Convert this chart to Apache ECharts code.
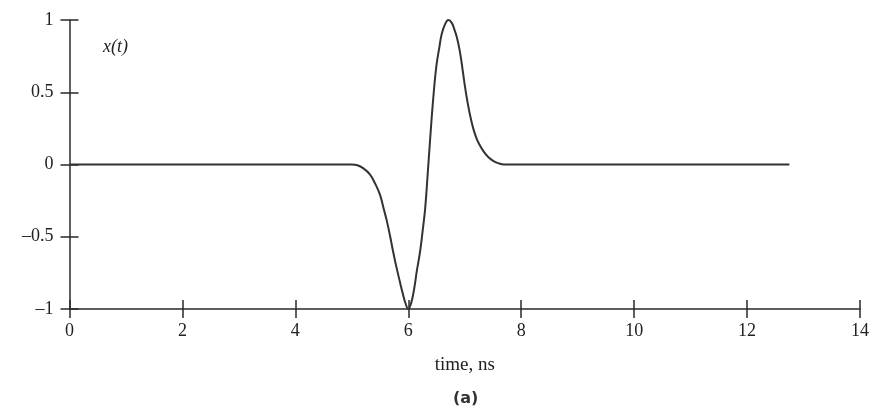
<!DOCTYPE html>
<html>
<head>
<meta charset="utf-8">
<script src="https://cdn.jsdelivr.net/npm/echarts@6/dist/echarts.min.js"></script>
<style>
html,body{margin:0;padding:0;background:#fff;}
#c{width:875px;height:413px;}
</style>
</head>
<body>
<div id="c"></div>
<script>
// time (ns)
var timeNs = [0, 5.0, 5.1, 5.2, 5.32, 5.41, 5.5, 5.56, 5.62, 5.68, 5.73, 5.79, 5.85, 5.90, 5.95, 6.0, 6.05, 6.10, 6.15, 6.21, 6.26, 6.30, 6.35, 6.41, 6.46, 6.50, 6.55, 6.59, 6.65, 6.71, 6.77, 6.82, 6.86, 6.91, 6.95, 7.0, 7.05, 7.10, 7.15, 7.20, 7.25, 7.33, 7.42, 7.51, 7.6, 7.7, 12.75];
// x(t)
var signal = [0, 0, -0.005, -0.025, -0.068, -0.13, -0.21, -0.30, -0.39, -0.50, -0.60, -0.71, -0.81, -0.89, -0.96, -1.0, -0.96, -0.87, -0.74, -0.60, -0.44, -0.30, -0.03, 0.30, 0.54, 0.69, 0.81, 0.90, 0.97, 1.0, 0.98, 0.93, 0.88, 0.79, 0.69, 0.55, 0.43, 0.33, 0.25, 0.19, 0.145, 0.093, 0.05, 0.024, 0.008, 0, 0];
var xTicks = [0, 2, 4, 6, 8, 10, 12, 14];
var yTicks = [-1, -0.5, 0, 0.5, 1];

var pts = timeNs.map(function (t, i) { return [t, signal[i]]; });
var serif = '"Liberation Serif", "DejaVu Serif", serif';
var ink = '#2a2a2a';

function fmtY(v) { return String(v).replace('-', '\u2013'); }

var chart = echarts.init(document.getElementById('c'), null, {renderer: 'canvas'});
chart.setOption({
  animation: false,
  backgroundColor: '#fff',
  grid: {left: 69.5, right: 15, top: 20, bottom: 104},
  xAxis: [{
    type: 'value', min: xTicks[0], max: xTicks[xTicks.length - 1], interval: 2,
    position: 'bottom',
    axisLine: {show: true, onZero: false, lineStyle: {color: ink, width: 1.5}},
    axisTick: {show: true, inside: false, length: 9, lineStyle: {color: ink, width: 1.5}},
    axisLabel: {color: '#222', fontFamily: serif, fontSize: 18, margin: 13},
    splitLine: {show: false},
    name: 'time, ns', nameLocation: 'middle', nameGap: 47,
    nameTextStyle: {color: '#222', fontFamily: serif, fontSize: 19}
  }, {
    type: 'value', min: xTicks[0], max: xTicks[xTicks.length - 1], interval: 2,
    position: 'bottom',
    axisLine: {show: false, onZero: false},
    axisTick: {show: true, inside: true, length: 9, lineStyle: {color: ink, width: 1.5}},
    axisLabel: {show: false},
    splitLine: {show: false}
  }],
  yAxis: [{
    type: 'value', min: yTicks[0], max: yTicks[yTicks.length - 1], interval: 0.5,
    position: 'left',
    axisLine: {show: true, onZero: false, lineStyle: {color: ink, width: 1.5}},
    axisTick: {show: true, inside: false, length: 9, lineStyle: {color: ink, width: 1.5}},
    axisLabel: {color: '#222', fontFamily: serif, fontSize: 18, margin: 16, formatter: fmtY},
    splitLine: {show: false}
  }, {
    type: 'value', min: yTicks[0], max: yTicks[yTicks.length - 1], interval: 0.5,
    position: 'left',
    axisLine: {show: false, onZero: false},
    axisTick: {show: true, inside: true, length: 9, lineStyle: {color: ink, width: 1.5}},
    axisLabel: {show: false},
    splitLine: {show: false}
  }],
  series: [{
    type: 'line',
    xAxisIndex: 0, yAxisIndex: 0,
    data: pts,
    smooth: 0.4,
    showSymbol: false,
    lineStyle: {color: '#333', width: 2}
  }],
  graphic: [{
    type: 'text', left: 103, top: 38,
    style: {text: 'x(t)', font: 'italic 18px ' + serif, fill: '#222'}
  }, {
    type: 'text', left: 453, top: 391,
    style: {text: '(a)', font: 'bold 16px "DejaVu Sans", sans-serif', fill: '#333'}
  }]
});
</script>
</body>
</html>
